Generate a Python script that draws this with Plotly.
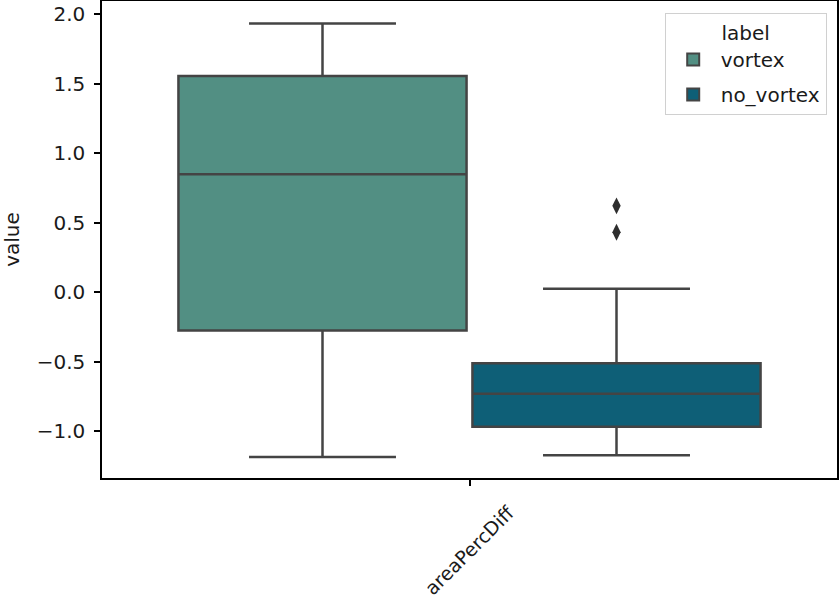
import plotly.graph_objects as go

# ---- data ----
categories = ["areaPercDiff"]
labels = ["vortex", "no_vortex"]
q1 = [-0.276, -0.969]
median = [0.847, -0.732]
q3 = [1.554, -0.513]
lowerfence = [-1.187, -1.175]
upperfence = [1.933, 0.024]
outliers = [[], [0.62, 0.43]]
colors = ["#528f83", "#0e5f77"]

edge = "#444444"
font = dict(family="DejaVu Sans", size=20, color="#1a1a1a")

n_hue = len(labels)
group_w = 0.8
box_w = group_w / n_hue * 0.98

fig = go.Figure()
for i, lab in enumerate(labels):
    pos = 0 - group_w / 2 + group_w / n_hue * (i + 0.5)
    fig.add_trace(go.Box(
        name=lab,
        legendgroup=lab,
        x=[pos],
        q1=[q1[i]], median=[median[i]], q3=[q3[i]],
        lowerfence=[lowerfence[i]], upperfence=[upperfence[i]],
        width=box_w,
        fillcolor=colors[i],
        line=dict(color=edge, width=2.5),
        whiskerwidth=0.51,
        boxpoints=False,
        hoverinfo="y",
    ))
    if outliers[i]:
        fig.add_trace(go.Scatter(
            x=[pos] * len(outliers[i]), y=outliers[i],
            mode="markers",
            legendgroup=lab,
            marker=dict(symbol="diamond-tall", size=12, color="#2e2e2e",
                        line=dict(width=0)),
            showlegend=False, hoverinfo="y",
        ))

# category tick labels, rotated 45 deg and centred on their ticks
for j, cat in enumerate(categories):
    fig.add_annotation(
        x=j, xref="x", y=0, yref="paper", yshift=-20,
        text=cat, textangle=-45, showarrow=False,
        xanchor="center", yanchor="top",
        font=dict(family="DejaVu Sans", size=19, color="#1a1a1a"),
    )

fig.update_layout(
    width=839, height=602,
    margin=dict(l=102, r=2, t=1, b=124),
    paper_bgcolor="white", plot_bgcolor="white",
    font=font,
    showlegend=True,
    legend=dict(
        title=dict(text="label", side="top center", font=font),
        x=0.986, xanchor="right", y=0.975, yanchor="top",
        bordercolor="#d0d0d0", borderwidth=1, bgcolor="rgba(255,255,255,0.8)",
        font=font, itemsizing="constant", tracegroupgap=6, itemwidth=45,
    ),
)
fig.update_xaxes(
    range=[-0.5, 0.5],
    tickmode="array", tickvals=[0], ticktext=[""],
    automargin=False,
    showline=True, mirror=True, linecolor="black", linewidth=1.5,
    ticks="outside", ticklen=6, tickwidth=1.5, tickcolor="black",
    showgrid=False, zeroline=False,
)
fig.update_yaxes(
    range=[-1.338, 2.094],
    tickmode="array", tickvals=[-1.0, -0.5, 0.0, 0.5, 1.0, 1.5, 2.0],
    ticktext=["\u22121.0", "\u22120.5", "0.0", "0.5", "1.0", "1.5", "2.0"],
    ticklabelstandoff=5,
    title=dict(text="value", standoff=20, font=font),
    automargin=False,
    showline=True, mirror=True, linecolor="black", linewidth=1.5,
    ticks="outside", ticklen=6, tickwidth=1.5, tickcolor="black",
    showgrid=False, zeroline=False,
)

fig.write_html(
    "out.html",
    config={"displayModeBar": False},
    post_script="document.body.style.margin='0';document.body.style.padding='0';",
)
